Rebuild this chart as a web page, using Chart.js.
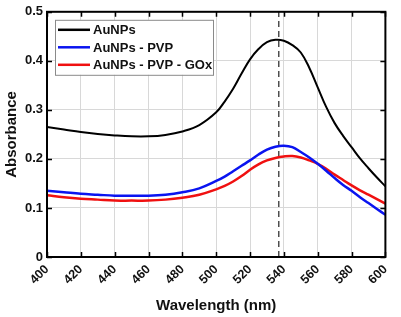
<!DOCTYPE html>
<html>
<head>
<meta charset="utf-8">
<script src="https://cdn.jsdelivr.net/npm/chart.js@4.4.1/dist/chart.umd.min.js"></script>
<style>
html,body{margin:0;padding:0;background:#fff;}
#wrap{width:401px;height:317px;position:relative;}
</style>
</head>
<body>
<div id="wrap"><canvas id="c" width="401" height="317"></canvas></div>
<script>
// Data
const wavelengths = [400,410,420,430,440,450,460,470,480,490,500,505,510,515,520,525,530,535,540,545,550,555,560,565,570,575,580,585,590,595,600];
const aunps       = [0.265,0.260,0.255,0.251,0.248,0.246,0.246,0.249,0.256,0.269,0.295,0.317,0.343,0.374,0.403,0.424,0.438,0.443,0.441,0.432,0.417,0.386,0.346,0.306,0.273,0.247,0.224,0.201,0.181,0.162,0.144];
const aunpsPvp    = [0.135,0.132,0.129,0.127,0.125,0.125,0.125,0.127,0.132,0.140,0.155,0.164,0.175,0.186,0.197,0.209,0.219,0.225,0.227,0.224,0.214,0.203,0.190,0.176,0.161,0.147,0.135,0.122,0.110,0.098,0.086];
const aunpsPvpGox = [0.126,0.122,0.119,0.117,0.115,0.115,0.115,0.117,0.121,0.127,0.138,0.145,0.154,0.165,0.178,0.189,0.197,0.202,0.205,0.206,0.203,0.197,0.190,0.180,0.168,0.157,0.146,0.136,0.127,0.118,0.109];
const seriesLabels = ['AuNPs','AuNPs - PVP','AuNPs - PVP - GOx'];
const peakWavelength = [537, 537];
const peakLineRange = [0, 0.5];
const xTickValues = [400,420,440,460,480,500,520,540,560,580,600];
const yTickValues = [0,0.1,0.2,0.3,0.4,0.5];

const pts = (xs, ys) => xs.map((x, i) => ({x: x, y: ys[i]}));
const FONT = '"Liberation Sans", Arial, sans-serif';

const framePlugin = {
  id: 'frame',
  afterDraw(chart) {
    const {ctx, chartArea: a, scales} = chart;
    ctx.save();
    ctx.strokeStyle = '#000';
    ctx.lineWidth = 1.5;
    const tl = 5;
    ctx.beginPath();
    xTickValues.forEach(v => {
      const px = Math.round(scales.x.getPixelForValue(v)) + 0.5;
      ctx.moveTo(px, a.bottom); ctx.lineTo(px, a.bottom - tl);
      ctx.moveTo(px, a.top); ctx.lineTo(px, a.top + tl);
    });
    yTickValues.forEach(v => {
      const py = Math.round(scales.y.getPixelForValue(v)) + 0.5;
      ctx.moveTo(a.left, py); ctx.lineTo(a.left + tl, py);
      ctx.moveTo(a.right, py); ctx.lineTo(a.right - tl, py);
    });
    ctx.stroke();
    ctx.lineWidth = 2;
    ctx.strokeRect(a.left, a.top, a.right - a.left, a.bottom - a.top);
    ctx.restore();
  }
};

const legendPlugin = {
  id: 'insideLegend',
  afterDatasetsDraw(chart) {
    const {ctx, chartArea: a} = chart;
    const x0 = a.left + 8, y0 = a.top + 8, w = 158, h = 55;
    ctx.save();
    ctx.fillStyle = '#fff';
    ctx.fillRect(x0, y0, w, h);
    ctx.strokeStyle = '#8a8a8a';
    ctx.lineWidth = 1;
    ctx.strokeRect(x0 + 0.5, y0 + 0.5, w, h);
    ctx.font = 'bold 13px ' + FONT;
    ctx.textBaseline = 'middle';
    ctx.textAlign = 'left';
    for (let i = 0; i < 3; i++) {
      const ds = chart.data.datasets[i];
      const yy = y0 + 10 + i * 17.5;
      ctx.strokeStyle = ds.borderColor;
      ctx.lineWidth = 2.5;
      ctx.beginPath();
      ctx.moveTo(x0 + 3, yy); ctx.lineTo(x0 + 35, yy);
      ctx.stroke();
      ctx.fillStyle = '#111';
      ctx.fillText(ds.label, x0 + 38, yy + 1);
    }
    ctx.restore();
  }
};

new Chart(document.getElementById('c'), {
  type: 'line',
  data: {
    datasets: [
      {label: seriesLabels[0], data: pts(wavelengths, aunps), borderColor: '#000000', borderWidth: 2, pointRadius: 0, tension: 0.4, fill: false},
      {label: seriesLabels[1], data: pts(wavelengths, aunpsPvp), borderColor: '#0a14f0', borderWidth: 2.5, pointRadius: 0, tension: 0.4, fill: false},
      {label: seriesLabels[2], data: pts(wavelengths, aunpsPvpGox), borderColor: '#f01010', borderWidth: 2.5, pointRadius: 0, tension: 0.4, fill: false},
      {label: 'peak', data: pts(peakWavelength, peakLineRange), borderColor: '#222', borderWidth: 1.2, borderDash: [6, 4], pointRadius: 0, fill: false}
    ]
  },
  options: {
    responsive: false,
    animation: false,
    devicePixelRatio: 1,
    layout: {padding: {top: 7, right: 10, left: 0, bottom: 0}},
    plugins: {legend: {display: false}, tooltip: {enabled: false}},
    scales: {
      x: {
        type: 'linear', min: 400, max: 600,
        afterFit(s) { s.height = 60; },
        afterBuildTicks(s) { s.ticks = xTickValues.map(v => ({value: v})); },
        grid: {color: '#d8d8d8', lineWidth: 1, drawTicks: false},
        border: {display: false},
        ticks: {minRotation: 45, maxRotation: 45, padding: 5, color: '#111', font: {family: FONT, size: 12.5, weight: 'bold'}},
        title: {display: true, text: 'Wavelength (nm)', color: '#111', padding: {top: 0, bottom: 2}, font: {family: FONT, size: 15, weight: 'bold'}}
      },
      y: {
        type: 'linear', min: 0, max: 0.5,
        afterFit(s) { s.width = 47; },
        afterBuildTicks(s) { s.ticks = yTickValues.map(v => ({value: v})); },
        grid: {color: '#d8d8d8', lineWidth: 1, drawTicks: false},
        border: {display: false},
        ticks: {padding: 4, color: '#111', font: {family: FONT, size: 13, weight: 'bold'}},
        title: {display: true, text: 'Absorbance', color: '#111', padding: {top: 3, bottom: 0}, font: {family: FONT, size: 15, weight: 'bold'}}
      }
    }
  },
  plugins: [framePlugin, legendPlugin]
});
</script>
</body>
</html>
